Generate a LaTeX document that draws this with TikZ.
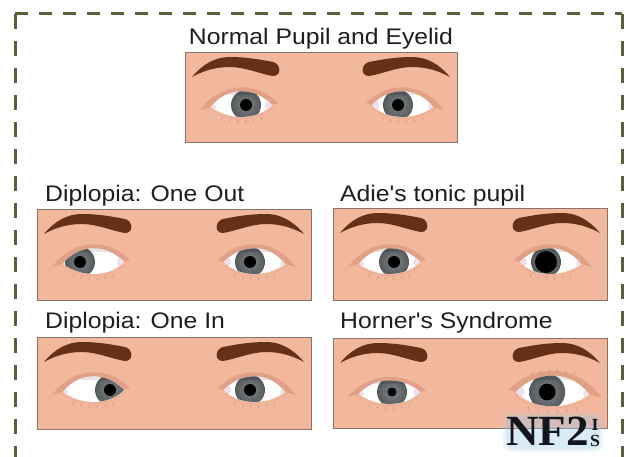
\documentclass[tikz,border=0pt]{standalone}
\usepackage{fontspec}
\setmainfont{Liberation Sans}
\newfontfamily\labelfont{Liberation Sans}[FakeStretch=1.1]
\newfontfamily\logofont{Liberation Serif}[FakeStretch=1.05]

\definecolor{skin}{RGB}{242,184,158}
\definecolor{panelline}{RGB}{140,115,105}
\definecolor{browc}{RGB}{100,48,24}
\definecolor{lidc}{RGB}{222,156,128}
\definecolor{lowlidc}{RGB}{220,155,130}
\definecolor{lashc}{RGB}{185,125,100}
\definecolor{irisin}{RGB}{128,133,134}
\definecolor{irisout}{RGB}{84,90,92}
\definecolor{captext}{RGB}{30,30,30}
\definecolor{framec}{RGB}{88,98,58}
\definecolor{glowc}{RGB}{150,200,235}
\definecolor{cornerc}{RGB}{234,224,240}
\definecolor{logoc}{RGB}{20,22,30}

\tikzset{
  panelbox/.style={draw=panelline, line width=0.9pt, fill=skin},
  caption/.style={font=\labelfont\fontsize{22.5}{27}\selectfont, text=captext, inner sep=0pt},
  frameline/.style={draw=framec, line width=3pt},
  lidband/.style={fill=lidc, opacity=0.8},
  lowlid/.style={draw=lowlidc, line width=1.2pt, opacity=0.3},
  lash/.style={draw=lashc, line width=0.6pt, opacity=0.6},
  logotext/.style={font=\logofont\bfseries\fontsize{43}{43}\selectfont, inner sep=0pt, anchor=base west},
  logosmall/.style={font=\logofont\bfseries\fontsize{17}{17}\selectfont, inner sep=0pt, anchor=base, text=logoc},
  halo/.style={fill=glowc, opacity=0.2, rounded corners=9pt},
}

% left eyebrow in panel coordinates (y grows downwards)
\newcommand\BrowShape{%
  (7,25) .. controls (18,12) and (30,5) .. (45,5)
  .. controls (62,5) and (78,8) .. (88,10)
  .. controls (96,12) and (97,24) .. (88,24)
  .. controls (75,22) and (60,15) .. (45,15)
  .. controls (30,15) and (18,19) .. (7,25) -- cycle}

% panel: #1 x, #2 y, #3 width, #4 height
\newcommand\FacePanel[4]{%
  \draw[panelbox] (#1,#2) rectangle ++(#3,#4);
  \begin{scope}[shift={(#1,#2)}]
    \fill[browc] \BrowShape;
    \begin{scope}[shift={(#3,0)}, xscale=-1]
      \fill[browc] \BrowShape;
    \end{scope}
  \end{scope}}

% eye: #1 cx, #2 cy, #3 side (1 left, -1 right), #4 iris shift towards the nose,
% #5 pupil radius, #6 lid opening, #7 overall scale
\newcommand\EyeAt[7]{%
  \begin{scope}[shift={(#1,#2)}, xscale=#3, scale=#7]
    \fill[lidband] (-42,{5*#6}) .. controls (-20,{-24*#6}) and (14,{-24*#6}) .. (36,{-2*#6})
      -- (30,0) .. controls (12,{-19*#6}) and (-16,{-18*#6}) .. (-31,2) -- cycle;
    \draw[lowlid] (31,2) .. controls (16,17) and (-12,18) .. (-34,3);
    \foreach \x/\y in {-20/9.2,-12/11.1,-4/11.9,4/11.9,12/11.1,20/9.2}
      \draw[lash] (\x,\y+3) -- ++(-1.2,3);
    \begin{scope}
      \clip (-31,2) .. controls (-16,{-18*#6}) and (12,{-19*#6}) .. (30,0)
        .. controls (16,15) and (-12,16) .. (-31,2) -- cycle;
      \fill[white] (-35,-20) rectangle (35,20);
      \fill[cornerc] (31,0) ellipse[x radius=8pt, y radius=6pt];
      \fill[cornerc] (-32,2) ellipse[x radius=6pt, y radius=5pt];
      \shade[inner color=irisin, outer color=irisout] (#4,0) circle[radius=15pt];
      \fill[black] (#4,0) circle[radius=#5pt];
      \fill[black, opacity=0.10] (-35,-20) rectangle (35,{-10*#6});
    \end{scope}
  \end{scope}}

\begin{document}
\begin{tikzpicture}[x=1pt, y=-1pt]
  \useasboundingbox (0,0) rectangle (626,457);
  \fill[white] (0,0) rectangle (626,457);

  % dashed frame
  \draw[frameline, dash pattern=on 13pt off 11pt] (15,14) -- (622,14);
  \draw[frameline, dash pattern=on 15pt off 12pt] (15,14) -- (15,470);
  \draw[frameline, dash pattern=on 15pt off 12pt] (622,14) -- (622,470);

  % captions
  \node[caption, anchor=base] (capNormal) at (321,45) {Normal Pupil and Eyelid};
  \node[caption, anchor=base west] (capOut) at (45,201) {Diplopia: One Out};
  \node[caption, anchor=base west] (capAdie) at (340,201) {Adie's tonic pupil};
  \node[caption, anchor=base west] (capIn) at (45,328) {Diplopia: One In};
  \node[caption, anchor=base west] (capHorner) at (340,328) {Horner's Syndrome};

  % normal
  \FacePanel{185}{52}{272}{90}
  \EyeAt{242}{105}{1}{4}{6}{1}{1}
  \EyeAt{402}{105}{-1}{4}{6}{1}{1}

  % diplopia, one eye turned out
  \FacePanel{37}{209}{274}{91}
  \EyeAt{94}{262}{1}{-14}{6}{1}{1}
  \EyeAt{254}{262}{-1}{4}{6}{1}{1}

  % Adie's tonic pupil
  \FacePanel{333}{208}{274}{92}
  \EyeAt{390}{262}{1}{4}{6}{1}{1}
  \EyeAt{550}{262}{-1}{4}{11}{1}{1}

  % diplopia, one eye turned in
  \FacePanel{37}{337}{274}{92}
  \EyeAt{94}{390}{1}{16}{6}{1}{1}
  \EyeAt{254}{390}{-1}{4}{6}{1}{1}

  % Horner's syndrome
  \FacePanel{333}{338}{274}{90}
  \EyeAt{390}{392}{1}{2}{4.5}{0.85}{1}
  \EyeAt{552}{392}{-1}{4}{7}{1}{1.2}
  \begin{scope}[shift={(552,392)}, xscale=-1, scale=1.2]
    \foreach \x/\y in {-18/-11.5,-11/-13,-4/-13.6,3/-13.6,10/-13,17/-11.5}
      \draw[lash] (\x,\y-2.5) -- ++(-1,-3);
  \end{scope}

  % NF2 logo on a soft blue halo
  \fill[halo] (503,413) rectangle (603,452);
  \fill[halo] (506,416) rectangle (600,449);
  \node[logotext, text=logoc] (logo) at (506,445) {NF2};
  \node[logosmall] (logoI) at (595,430) {I};
  \node[logosmall] (logoS) at (595,446) {S};
\end{tikzpicture}
\end{document}
